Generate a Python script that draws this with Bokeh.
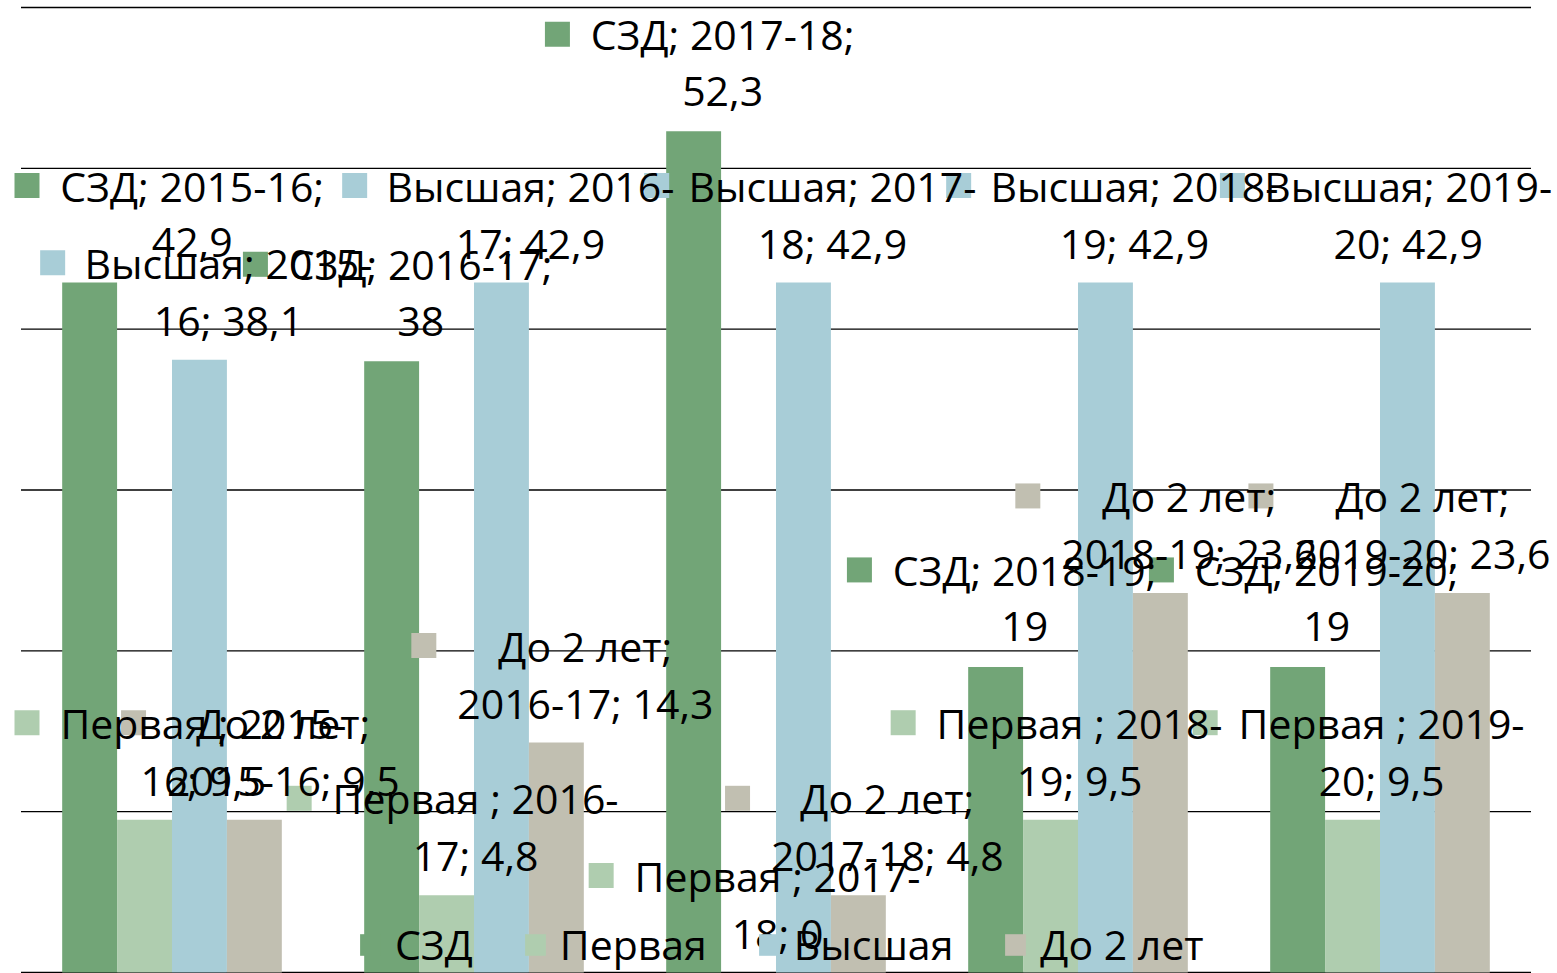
import re
from bokeh.plotting import figure
from bokeh.models import (ColumnDataSource, FactorRange, Legend, LegendItem, LabelSet,
                          Grid, Range1d)
from bokeh.core.properties import value
from bokeh.transform import dodge
from bokeh.embed import file_html
from bokeh.resources import INLINE

# ---------------- data ----------------
categories = ["2015-16", "2016-17", "2017-18", "2018-19", "2019-20"]
series_names = ["СЗД", "Первая ", "Высшая", "До 2 лет"]
szd = [42.9, 38, 52.3, 19, 19]
pervaya = [9.5, 4.8, 0, 9.5, 9.5]
vysshaya = [38.1, 42.9, 42.9, 42.9, 42.9]
do_2_let = [9.5, 14.3, 4.8, 23.6, 23.6]
colors = ["#72A577", "#AFCDAF", "#A8CDD7", "#C1BFB1"]
series_values = [szd, pervaya, vysshaya, do_2_let]

# ---------------- geometry ----------------
Y_MAX = 60
GRID_STEP = 10
FIG_W, FIG_H = 1557, 973
B_LEFT, B_RIGHT = 0, 6
PLOT_TOP_PX, PLOT_BOTTOM_PX = 7, 972      # where Y_MAX and 0 sit
FRAME_W = FIG_W - B_LEFT - B_RIGHT
EDGE_PAD = 20.5                            # px from frame edge to category area
N = len(categories)
CAT_PX = (FRAME_W - 2 * EDGE_PAD) / N
PX_PER_UNIT = (PLOT_BOTTOM_PX - PLOT_TOP_PX) / Y_MAX
BAR_W = 1 / 5.5
FONT = "Open Sans"
FONT_PX = 41
LINE_GAP = 57       # distance between label lines
LAST_LINE_UP = 40   # centre of last label line above bar top
TEXT_SHIFT = 29     # label text centre right of bar centre
MARK_GAP = 33.5     # marker centre left of text left edge
CLAMP_LEFT = 14     # leftmost marker edge (frame px)
CLAMP_RIGHT = 1550  # rightmost text edge (frame px)

# approximate advance widths (em) for Open Sans
W_EM = {c: 0.572 for c in "0123456789"}
W_EM.update({" ": 0.26, ",": 0.25, ";": 0.266, "-": 0.322,
             "С": 0.633, "З": 0.586, "Д": 0.66, "В": 0.635, "П": 0.70,
             "ы": 0.72, "с": 0.479, "ш": 0.85, "а": 0.556, "я": 0.565,
             "е": 0.56, "р": 0.613, "в": 0.58, "о": 0.602, "л": 0.595, "т": 0.46})


def text_px(s):
    return sum(W_EM.get(c, 0.58) for c in s) * FONT_PX


def fmt(v):
    return f"{v:g}".replace(".", ",")


def wrap(s, maxc=14):
    toks = re.findall(r"[^ \-]+[ \-]?", s)
    lines, line = [], ""
    for t in toks:
        if line and len((line + t).rstrip()) > maxc:
            lines.append(line.rstrip())
            line = t
        else:
            line += t
    lines.append(line.rstrip())
    return lines


# ---------------- figure ----------------
y_range = Range1d(-(FIG_H - PLOT_BOTTOM_PX) / PX_PER_UNIT,
                  Y_MAX + PLOT_TOP_PX / PX_PER_UNIT)
p = figure(x_range=FactorRange(*categories, range_padding=2 * EDGE_PAD / (CAT_PX * N)),
           y_range=y_range, width=FIG_W, height=FIG_H,
           output_backend="svg", toolbar_location=None,
           x_axis_location=None, y_axis_location=None,
           min_border_top=0, min_border_bottom=0,
           min_border_left=B_LEFT, min_border_right=B_RIGHT)
p.center = [r for r in p.center if not isinstance(r, Grid)]
p.outline_line_color = None
p.background_fill_color = "white"
p.border_fill_color = "white"

# horizontal grid lines spanning the category area only
grid_y = list(range(0, Y_MAX + 1, GRID_STEP))
p.segment(x0=[0] * len(grid_y), x1=[N] * len(grid_y), y0=grid_y, y1=grid_y,
          line_color="black", line_width=1.3)

src = ColumnDataSource(dict(cat=categories, szd=szd, pervaya=pervaya,
                            vysshaya=vysshaya, do2=do_2_let))
cols = ["szd", "pervaya", "vysshaya", "do2"]
items = []
for s, (col, name, color) in enumerate(zip(cols, series_names, colors)):
    off = (s - 1.5) * BAR_W
    r = p.vbar(x=dodge("cat", off, range=p.x_range), top=col, width=BAR_W,
               source=src, fill_color=color, line_color=None)
    items.append(LegendItem(label=name.strip(), renderers=[r]))

# ---------------- data labels ----------------
lab = dict(x=[], y=[], text=[], xo=[], yo=[])
mk = dict(x=[], y=[], color=[])
for s, (name, vals, color) in enumerate(zip(series_names, series_values, colors)):
    off = (s - 1.5) * BAR_W
    for i, (cat, v) in enumerate(zip(categories, vals)):
        syn = i + 0.5 + off
        bar_px = B_LEFT + EDGE_PAD + syn * CAT_PX
        lines = wrap(f"{name}; {cat}; {fmt(v)}")
        W = max(text_px(l) for l in lines)
        left = bar_px + TEXT_SHIFT - W / 2
        if left - MARK_GAP - 12.5 < CLAMP_LEFT:
            left = CLAMP_LEFT + 12.5 + MARK_GAP
        if left + W > CLAMP_RIGHT:
            left = CLAMP_RIGHT - W
        tc = left + W / 2
        n = len(lines)
        for k, l in enumerate(lines):
            lab["x"].append(syn)
            lab["y"].append(v)
            lab["text"].append(l)
            lab["xo"].append(tc - bar_px)
            lab["yo"].append(LAST_LINE_UP + LINE_GAP * (n - 1 - k))
        mk["x"].append(syn + (left - MARK_GAP - bar_px) / CAT_PX)
        mk["y"].append(v + (LAST_LINE_UP + LINE_GAP * (n - 1)) / PX_PER_UNIT)
        mk["color"].append(color)

p.scatter(x="x", y="y", source=ColumnDataSource(mk), marker="square", size=25,
          fill_color="color", line_color=None)
p.add_layout(LabelSet(x="x", y="y", text="text", x_offset="xo", y_offset="yo",
                      source=ColumnDataSource(lab), text_font=value(FONT),
                      text_font_size=value(f"{FONT_PX}px"), text_align="center",
                      text_baseline="middle", text_color="black"))

legend = Legend(items=items, orientation="horizontal", location=(357 - B_LEFT, 1),
                glyph_width=26, glyph_height=27, label_standoff=12, spacing=49,
                padding=0, margin=0, border_line_color=None,
                background_fill_alpha=0, label_text_font=FONT,
                label_text_font_size=f"{FONT_PX}px", label_text_color="black")
p.add_layout(legend, "center")

open("out.html", "w").write(file_html(p, INLINE))
